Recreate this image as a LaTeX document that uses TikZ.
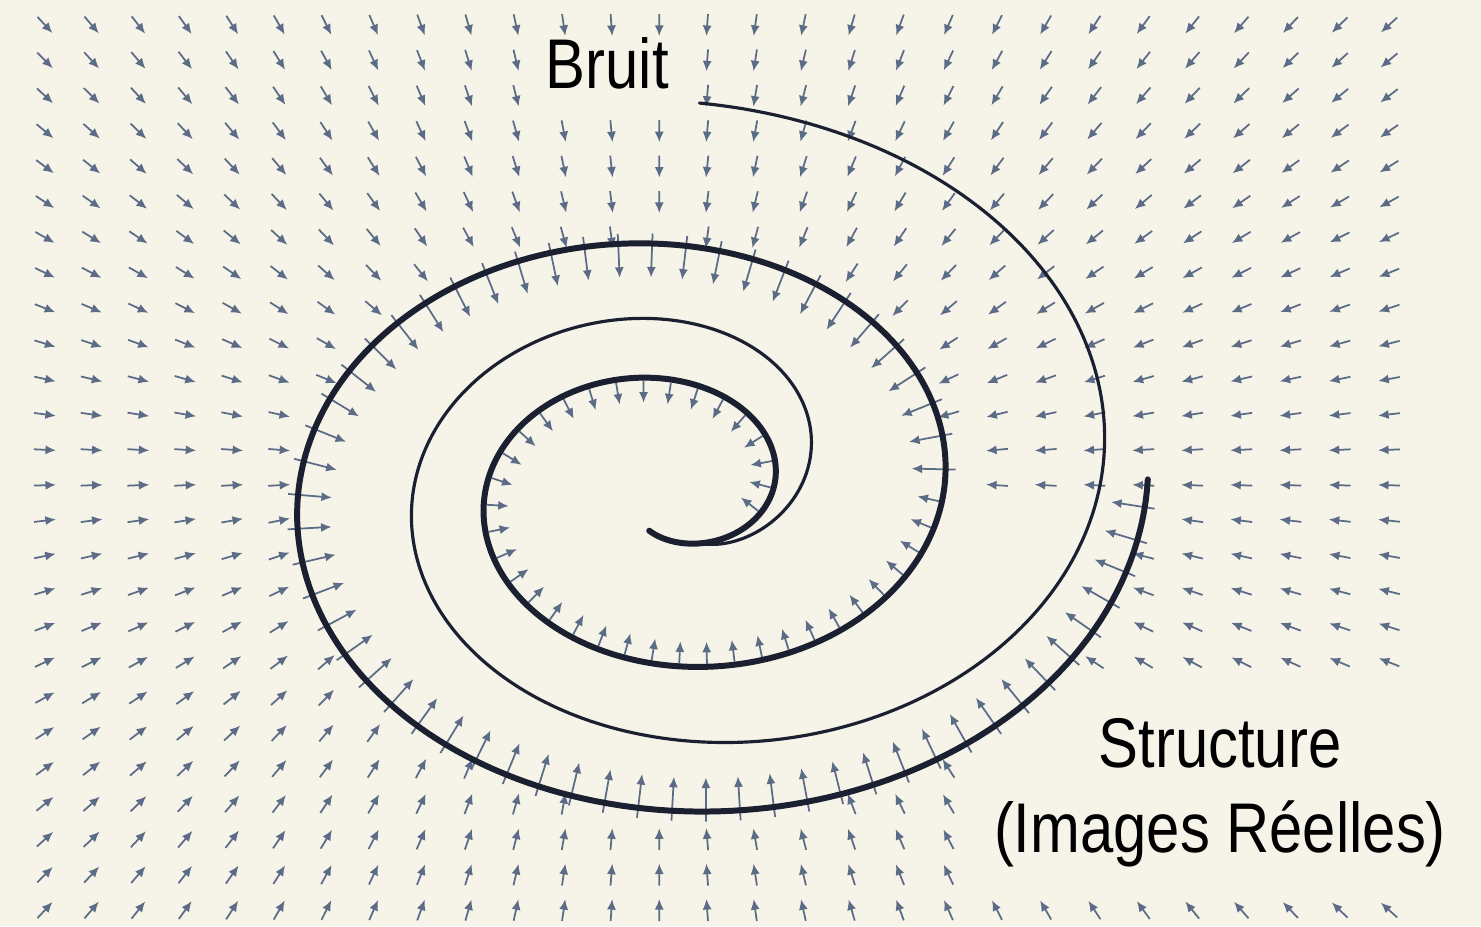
\documentclass[tikz,border=0pt]{standalone}
\usepackage{fontspec}
\setmainfont{Liberation Sans}[FakeStretch=0.85]
\usetikzlibrary{arrows.meta,decorations.markings}
\definecolor{bgc}{RGB}{246,243,233}
\definecolor{ink}{RGB}{27,32,48}
\definecolor{fld}{RGB}{92,108,135}
\begin{document}
\begin{tikzpicture}[x=0.01cm,y=-0.01cm,
  fa/.style={draw=fld, line width=0.5pt, -{Latex[length=3pt,width=2.6pt]}},
  thickarm/.style={draw=ink, line width=1.7pt, line cap=round},
  thinarm/.style={draw=ink, line width=0.9pt, line cap=round},
  lab/.style={text=black, font=\fontsize{20}{24}\selectfont, inner sep=0pt}]
\useasboundingbox (0,0) rectangle (1481,926);
\fill[bgc] (0,0) rectangle (1481,926);

% vector field on a grid
\foreach \i in {0,...,28} {
  \foreach \j in {0,...,25} {
    \pgfmathsetmacro\gx{45+46.6*\i+0.05*\i*\i}
    \pgfmathsetmacro\gy{25+35.4*\j}
    \pgfmathsetmacro\qu{(\gx-670)/100}
    \pgfmathsetmacro\qv{(490-\gy)/76}
    \pgfmathsetmacro\qrho{sqrt(\qu*\qu+\qv*\qv)}
    \pgfmathsetmacro\qphi{mod(atan2(\qv,\qu)+360,360)}
    \pgfmathsetmacro\qt{1+\qphi/360}
    \pgfmathsetmacro\qrout{(103+155*\qt+16*\qt*\qt)/100}
    \pgfmathtruncatemacro\qshow{(\qrho>\qrout+0.10)*(1-(\gx>530)*(\gx<690)*(\gy>40)*(\gy<110))*(1-(\gx>985)*(\gy>685)*(\gy<885))}
    \ifnum\qshow=1
      \pgfmathsetmacro\qdx{(660-\gx)/100}
      \pgfmathsetmacro\qdy{1.5*(470-\gy)/100}
      \pgfmathsetmacro\qn{sqrt(\qdx*\qdx+\qdy*\qdy)}
      \pgfmathsetmacro\qux{11*\qdx/\qn}
      \pgfmathsetmacro\quy{11*\qdy/\qn}
      \draw[fa] (\gx-\qux,\gy-\quy) -- (\gx+\qux,\gy+\quy);
    \fi
  }
}

% arrows hugging the thick spiral (inner side)
\path[decorate, decoration={markings,
  mark=between positions 0 and 1 step 0.28cm with {\draw[fa] (0cm,0.03cm) -- (0cm,0.25cm);}}]
  plot[domain=-0.05:1.0, samples=200, variable=\t]
  ({670+(103+155*\t+16*\t*\t)*cos(360*\t)}, {490-(80+120*\t+10*\t*\t)*sin(360*\t)});
\path[decorate, decoration={markings,
  mark=between positions 0.01 and 1 step 0.34cm with {\draw[fa] (0cm,-0.10cm) -- (0cm,0.34cm);}}]
  plot[domain=1.0:2.0, samples=240, variable=\t]
  ({670+(103+155*\t+16*\t*\t)*cos(360*\t)}, {490-(80+120*\t+10*\t*\t)*sin(360*\t)});

% thick spiral (structure)
\draw[thickarm] plot[domain=-0.31:2.008, samples=500, variable=\t]
  ({670+(103+155*\t+16*\t*\t)*cos(360*\t)}, {490-(80+120*\t+10*\t*\t)*sin(360*\t)});

% thin spiral (noise path)
\draw[thinarm] plot[domain=-0.245:1.21, samples=400, variable=\s]
  ({684+(418-299*\s)*cos(360*\s)}, {473.9+13.5*\s-5.6*\s*\s+(316.1-209.5*\s)*sin(360*\s)});

% labels
\node[lab, anchor=base west] (bruit) at (545,88) {Bruit};
\node[lab, anchor=base] (struct) at (1220,767) {Structure};
\node[lab, anchor=base] (images) at (1220,852) {(Images Réelles)};
\end{tikzpicture}
\end{document}
